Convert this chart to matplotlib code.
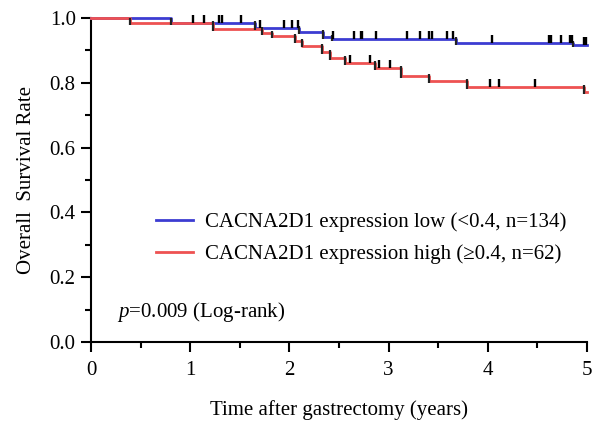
import numpy as np
import matplotlib
matplotlib.use('Agg')
import matplotlib.pyplot as plt

plt.rcParams['font.family'] = ['Liberation Serif', 'DejaVu Serif']
plt.rcParams['mathtext.fontset'] = 'custom'
plt.rcParams['mathtext.it'] = 'Liberation Serif:italic'

# Kaplan-Meier steps
low_event_t = [0.0, 0.81, 1.65, 2.10, 2.34, 2.43, 3.68, 4.86, 5.0]
low_surv = [1.0, 0.985, 0.970, 0.958, 0.942, 0.935, 0.924, 0.916, 0.916]
low_censor_t = [1.03, 1.29, 1.32, 1.51, 1.70, 1.95, 2.03, 2.09, 2.44, 2.65, 2.72, 2.73,
                2.87, 3.19, 3.32, 3.41, 3.44, 3.59, 3.65, 4.04, 4.62, 4.64, 4.74,
                4.83, 4.85, 4.97, 4.99]

high_event_t = [0.0, 0.39, 1.23, 1.72, 1.82, 2.06, 2.13, 2.33, 2.41, 2.56, 2.86,
                3.12, 3.41, 3.79, 4.97, 5.0]
high_surv = [1.0, 0.984, 0.967, 0.955, 0.945, 0.930, 0.915, 0.895, 0.877, 0.862,
             0.845, 0.821, 0.806, 0.788, 0.772, 0.772]
high_censor_t = [1.14, 2.61, 2.81, 2.90, 3.01, 4.02, 4.11, 4.48]

labels = ['CACNA2D1 expression low (<0.4, n=134)',
          'CACNA2D1 expression high (\u22650.4, n=62)']
colors = ['#3c3cd2', '#ee5252']
fs = 15

fig = plt.figure(figsize=(5.96, 4.23), dpi=100)
ax = fig.add_axes([91 / 596, 81 / 423, 496 / 596, 324 / 423])


def draw_km(t, s, ct, color, label):
    t = np.asarray(t)
    s = np.asarray(s)
    ax.step(t, s, where='post', color=color, lw=2, label=label, clip_on=False, zorder=3)
    # vertical drops drawn dark
    for i in range(1, len(t)):
        if s[i] < s[i - 1]:
            ax.vlines(t[i], s[i] - 0.006, s[i - 1] + 0.006, color='#222222', lw=1.6, zorder=4)
    idx = np.searchsorted(t, ct, side='right') - 1
    lev = s[idx]
    ax.vlines(ct, lev, lev + 0.024, color='black', lw=1.7, zorder=5, clip_on=False)


draw_km(low_event_t, low_surv, low_censor_t, colors[0], labels[0])
draw_km(high_event_t, high_surv, high_censor_t, colors[1], labels[1])

ax.set_xlim(0, 5)
ax.set_ylim(0, 1.0)
ax.set_xticks(np.arange(0, 6, 1))
ax.set_xticks(np.arange(0.5, 5, 1), minor=True)
ax.set_yticks(np.arange(0, 1.01, 0.2))
ax.set_yticks(np.arange(0.1, 1.0, 0.2), minor=True)
ax.set_yticklabels(['0.0', '0.2', '0.4', '0.6', '0.8', '1.0'])
ax.spines['top'].set_visible(False)
ax.spines['right'].set_visible(False)
for sp in ['left', 'bottom']:
    ax.spines[sp].set_linewidth(1.5)
ax.tick_params(which='major', length=7, width=1.5, labelsize=fs, direction='out')
ax.tick_params(which='minor', length=4, width=1.5, direction='out')
ax.tick_params(axis='x', pad=7)
ax.tick_params(axis='y', pad=4)

ax.set_xlabel('Time after gastrectomy (years)', fontsize=fs, labelpad=14)
ax.set_ylabel('Overall  Survival Rate', fontsize=fs, labelpad=10)

ax.legend(loc='center left', bbox_to_anchor=(0.093, 0.32), frameon=False, fontsize=fs,
          handlelength=1.8, handletextpad=0.55, labelspacing=0.6)
ax.text(0.052, 0.093, '$p$=0.009 (Log-rank)', transform=ax.transAxes, fontsize=fs,
        va='center')

plt.savefig('out.png', dpi=100)
